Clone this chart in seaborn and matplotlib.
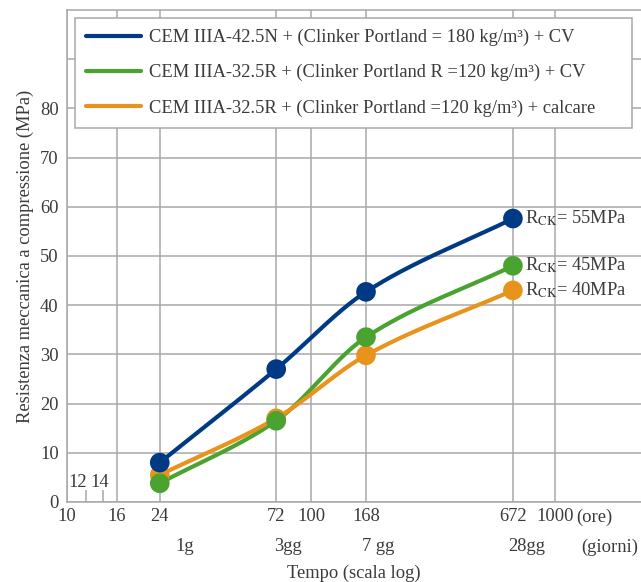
import numpy as np
import pandas as pd
import matplotlib
matplotlib.use("Agg")
import matplotlib.pyplot as plt
import seaborn as sns

# data
ore = [24, 72, 168, 672]
serie = [
    "CEM IIIA-42.5N + (Clinker Portland = 180 kg/m³) + CV",
    "CEM IIIA-32.5R + (Clinker Portland R =120 kg/m³) + CV",
    "CEM IIIA-32.5R + (Clinker Portland =120 kg/m³) + calcare",
]
blu = [8.0, 27.0, 42.7, 57.6]
verde = [3.8, 16.5, 33.5, 48.0]
arancio = [5.5, 17.0, 29.8, 43.0]
rck = [55, 45, 40]
colori = ["#003a84", "#4aa331", "#e8931c"]

x_ticks = [10, 16, 24, 72, 100, 168, 672, 1000]
x_labels = ["10", "16", "24", "72", "100", "168", "672", "1000"]
giorni = ["1g", "3gg", "7 gg", "28gg"]
giorni_dx = [25, 12, 12, 14]
y_ticks = [0, 10, 20, 30, 40, 50, 60, 70, 80, 90]

sns.set_style("white")
plt.rcParams["font.family"] = ["Liberation Serif", "DejaVu Serif"]
plt.rcParams["mathtext.fontset"] = "stix"
txt = "#3a3a3a"
grigio = "#a8a8a8"
fs = 13.3


def pchip(x, y, xn):
    # monotone cubic curve through the points (log x)
    x = np.asarray(x, float); y = np.asarray(y, float)
    h = np.diff(x); d = np.diff(y) / h
    m = np.zeros_like(y)
    for i in range(1, len(y) - 1):
        if d[i - 1] * d[i] > 0:
            w1 = 2 * h[i] + h[i - 1]; w2 = h[i] + 2 * h[i - 1]
            m[i] = (w1 + w2) / (w1 / d[i - 1] + w2 / d[i])
    m[0] = d[0]; m[-1] = d[-1]
    out = []
    for v in xn:
        k = min(np.searchsorted(x, v, side="right") - 1, len(x) - 2)
        t = (v - x[k]) / h[k]
        h00 = 2*t**3 - 3*t**2 + 1; h10 = t**3 - 2*t**2 + t
        h01 = -2*t**3 + 3*t**2; h11 = t**3 - t**2
        out.append(h00*y[k] + h10*h[k]*m[k] + h01*y[k+1] + h11*h[k]*m[k+1])
    return np.array(out)


fig = plt.figure(figsize=(6.41, 5.82), dpi=100)
ax = fig.add_axes([0.1045, 0.1375, 0.8955, 0.8455])

lx = np.log10(ore)
xs = np.linspace(lx[0], lx[-1], 200)
for nome, vals, c in zip(serie, [blu, verde, arancio], colori):
    df = pd.DataFrame({"ore": 10 ** xs, "MPa": pchip(lx, vals, xs)})
    sns.lineplot(data=df, x="ore", y="MPa", color=c, lw=3, label=nome, ax=ax, zorder=3)
for vals, c in zip([arancio, blu, verde], [colori[2], colori[0], colori[1]]):
    sns.scatterplot(x=ore, y=vals, color=c, s=200, edgecolor="none", ax=ax, zorder=4, legend=False)

ax.set_xscale("log")
ax.set_xlim(10, 2250)
ax.set_ylim(0, 100)
ax.set_xticks(x_ticks)
ax.set_xticklabels(x_labels)
ax.minorticks_off()
ax.set_yticks(y_ticks)
ax.set_yticklabels([str(v) if v < 90 else "" for v in y_ticks])
ax.grid(True, color=grigio, lw=1.1)
ax.tick_params(axis="x", length=0, labelsize=fs, colors=txt, pad=4)
ax.tick_params(axis="y", length=4, color=grigio, labelsize=fs, colors=txt, pad=2)
for s in ["left", "bottom", "top"]:
    ax.spines[s].set_color(grigio)
    ax.spines[s].set_linewidth(1.1)
ax.spines["right"].set_visible(False)

ax.set_xlabel("Tempo (scala log)", fontsize=fs, color=txt, labelpad=29)
ax.set_ylabel("Resistenza meccanica a compressione (MPa)", fontsize=fs, color=txt, labelpad=4)

# second row of x labels (days)
for h, g, dx in zip(ore, giorni, giorni_dx):
    ax.annotate(g, xy=(h, 0), xycoords=("data", "axes fraction"), xytext=(dx, -45),
                textcoords="offset pixels", ha="center", va="center", fontsize=fs, color=txt)
ax.annotate("(ore)", xy=(1000, 0), xycoords=("data", "axes fraction"), xytext=(21, -15),
            textcoords="offset pixels", ha="left", va="center", fontsize=fs, color=txt)
ax.annotate("(giorni)", xy=(1000, 0), xycoords=("data", "axes fraction"), xytext=(55, -45),
            textcoords="offset pixels", ha="center", va="center", fontsize=fs, color=txt)

# small ticks 12 / 14 inside the plot
ax.vlines([12, 14], 0, 2.5, color=grigio, lw=1.1)
ax.annotate("12", xy=(12, 4), xytext=(-9, 0), textcoords="offset pixels",
            ha="center", va="center", fontsize=fs, color=txt)
ax.annotate("14", xy=(14, 4), xytext=(-3, 0), textcoords="offset pixels",
            ha="center", va="center", fontsize=fs, color=txt)

# Rck labels at the 28-day points
for vals, r in zip([blu, verde, arancio], rck):
    ax.annotate(r"R$_{\mathrm{CK}}$= %dMPa" % r, xy=(ore[-1], vals[-1]), xytext=(12, 0),
                textcoords="offset pixels", ha="left", va="center", fontsize=fs, color=txt)

leg = ax.legend(loc="upper left", bbox_to_anchor=(0.014, 0.0, 0.97, 0.984), mode="expand",
                fontsize=fs, frameon=True, fancybox=False, framealpha=1, edgecolor=grigio,
                handlelength=2.95, labelspacing=0.97, borderpad=0.6, handletextpad=0.45,
                borderaxespad=0)
leg.get_frame().set_linewidth(1.1)
for t in leg.get_texts():
    t.set_color(txt)
leg.set_zorder(5)

fig.savefig("out.png", dpi=100)
